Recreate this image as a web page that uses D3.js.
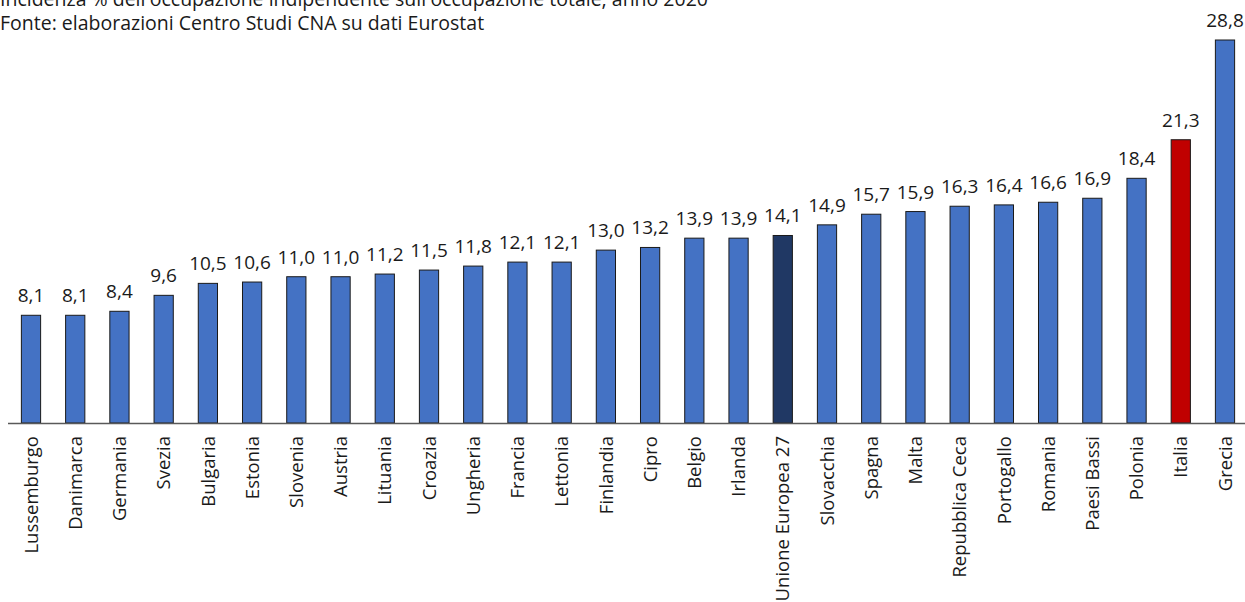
<!DOCTYPE html>
<html>
<head>
<meta charset="utf-8">
<script src="https://cdn.jsdelivr.net/npm/d3@7"></script>
<style>
  html, body { margin: 0; padding: 0; background: #fff; }
  svg { display: block; }
  text { font-family: "Open Sans", sans-serif; fill: #1a1a1a; }
</style>
</head>
<body>
<svg id="chart" width="1245" height="602"></svg>
<script>
// Self-employment share of total employment, 2020 (%)
const countries = ["Lussemburgo","Danimarca","Germania","Svezia","Bulgaria","Estonia","Slovenia","Austria","Lituania","Croazia","Ungheria","Francia","Lettonia","Finlandia","Cipro","Belgio","Irlanda","Unione Europea 27","Slovacchia","Spagna","Malta","Repubblica Ceca","Portogallo","Romania","Paesi Bassi","Polonia","Italia","Grecia"];
const values = [8.1,8.1,8.4,9.6,10.5,10.6,11.0,11.0,11.2,11.5,11.8,12.1,12.1,13.0,13.2,13.9,13.9,14.1,14.9,15.7,15.9,16.3,16.4,16.6,16.9,18.4,21.3,28.8];
const highlight = { "Unione Europea 27": "#203864", "Italia": "#C00000" };
const titleLines = [
  "Incidenza % dell'occupazione indipendente sull'occupazione totale; anno 2020",
  "Fonte: elaborazioni Centro Studi CNA su dati Eurostat"
];

const svg = d3.select("#chart");
const baseY = 423;

const x = d3.scaleBand().domain(countries).range([9, 1247]).paddingInner(0.565).paddingOuter(0.28);
const y = d3.scaleLinear().domain([0, 28.8]).range([baseY, 40]);

// Title block (first line runs into the top edge)
svg.selectAll("text.title").data(titleLines).join("text")
  .attr("class", "title")
  .attr("x", 0)
  .attr("y", (d, i) => i === 0 ? 6 : 30)
  .style("font-size", "19.5px")
  .text(d => d);

// Bars
const data = countries.map((c, i) => ({ c, v: values[i] }));
svg.selectAll("rect.bar").data(data).join("rect")
  .attr("class", "bar")
  .attr("x", d => x(d.c))
  .attr("width", x.bandwidth())
  .attr("y", d => y(d.v))
  .attr("height", d => baseY - y(d.v))
  .attr("fill", d => highlight[d.c] || "#4472C4")
  .attr("stroke", "#1a1a1a")
  .attr("stroke-width", 1);

// Value labels
const fmt = v => v.toFixed(1).replace(".", ",");
svg.selectAll("text.val").data(data).join("text")
  .attr("class", "val")
  .attr("x", d => x(d.c) + x.bandwidth() / 2)
  .attr("y", d => y(d.v) - 13)
  .attr("text-anchor", "middle")
  .style("font-size", "19px")
  .text(d => fmt(d.v));

// Category axis
const axis = d3.axisBottom(x).tickSize(0).tickPadding(0);
const gx = svg.append("g").attr("transform", `translate(0,${baseY})`).call(axis);
gx.select(".domain").attr("stroke", "#595959").attr("stroke-width", 1.3).attr("d", "M8,0.5H1245");
gx.selectAll(".tick text")
  .attr("transform", "rotate(-90)")
  .attr("x", -13)
  .attr("y", 0)
  .attr("dy", "0.36em")
  .attr("text-anchor", "end")
  .style("font-family", "'Open Sans', sans-serif")
  .style("font-size", "18.5px")
  .attr("fill", "#1a1a1a");
</script>
</body>
</html>
